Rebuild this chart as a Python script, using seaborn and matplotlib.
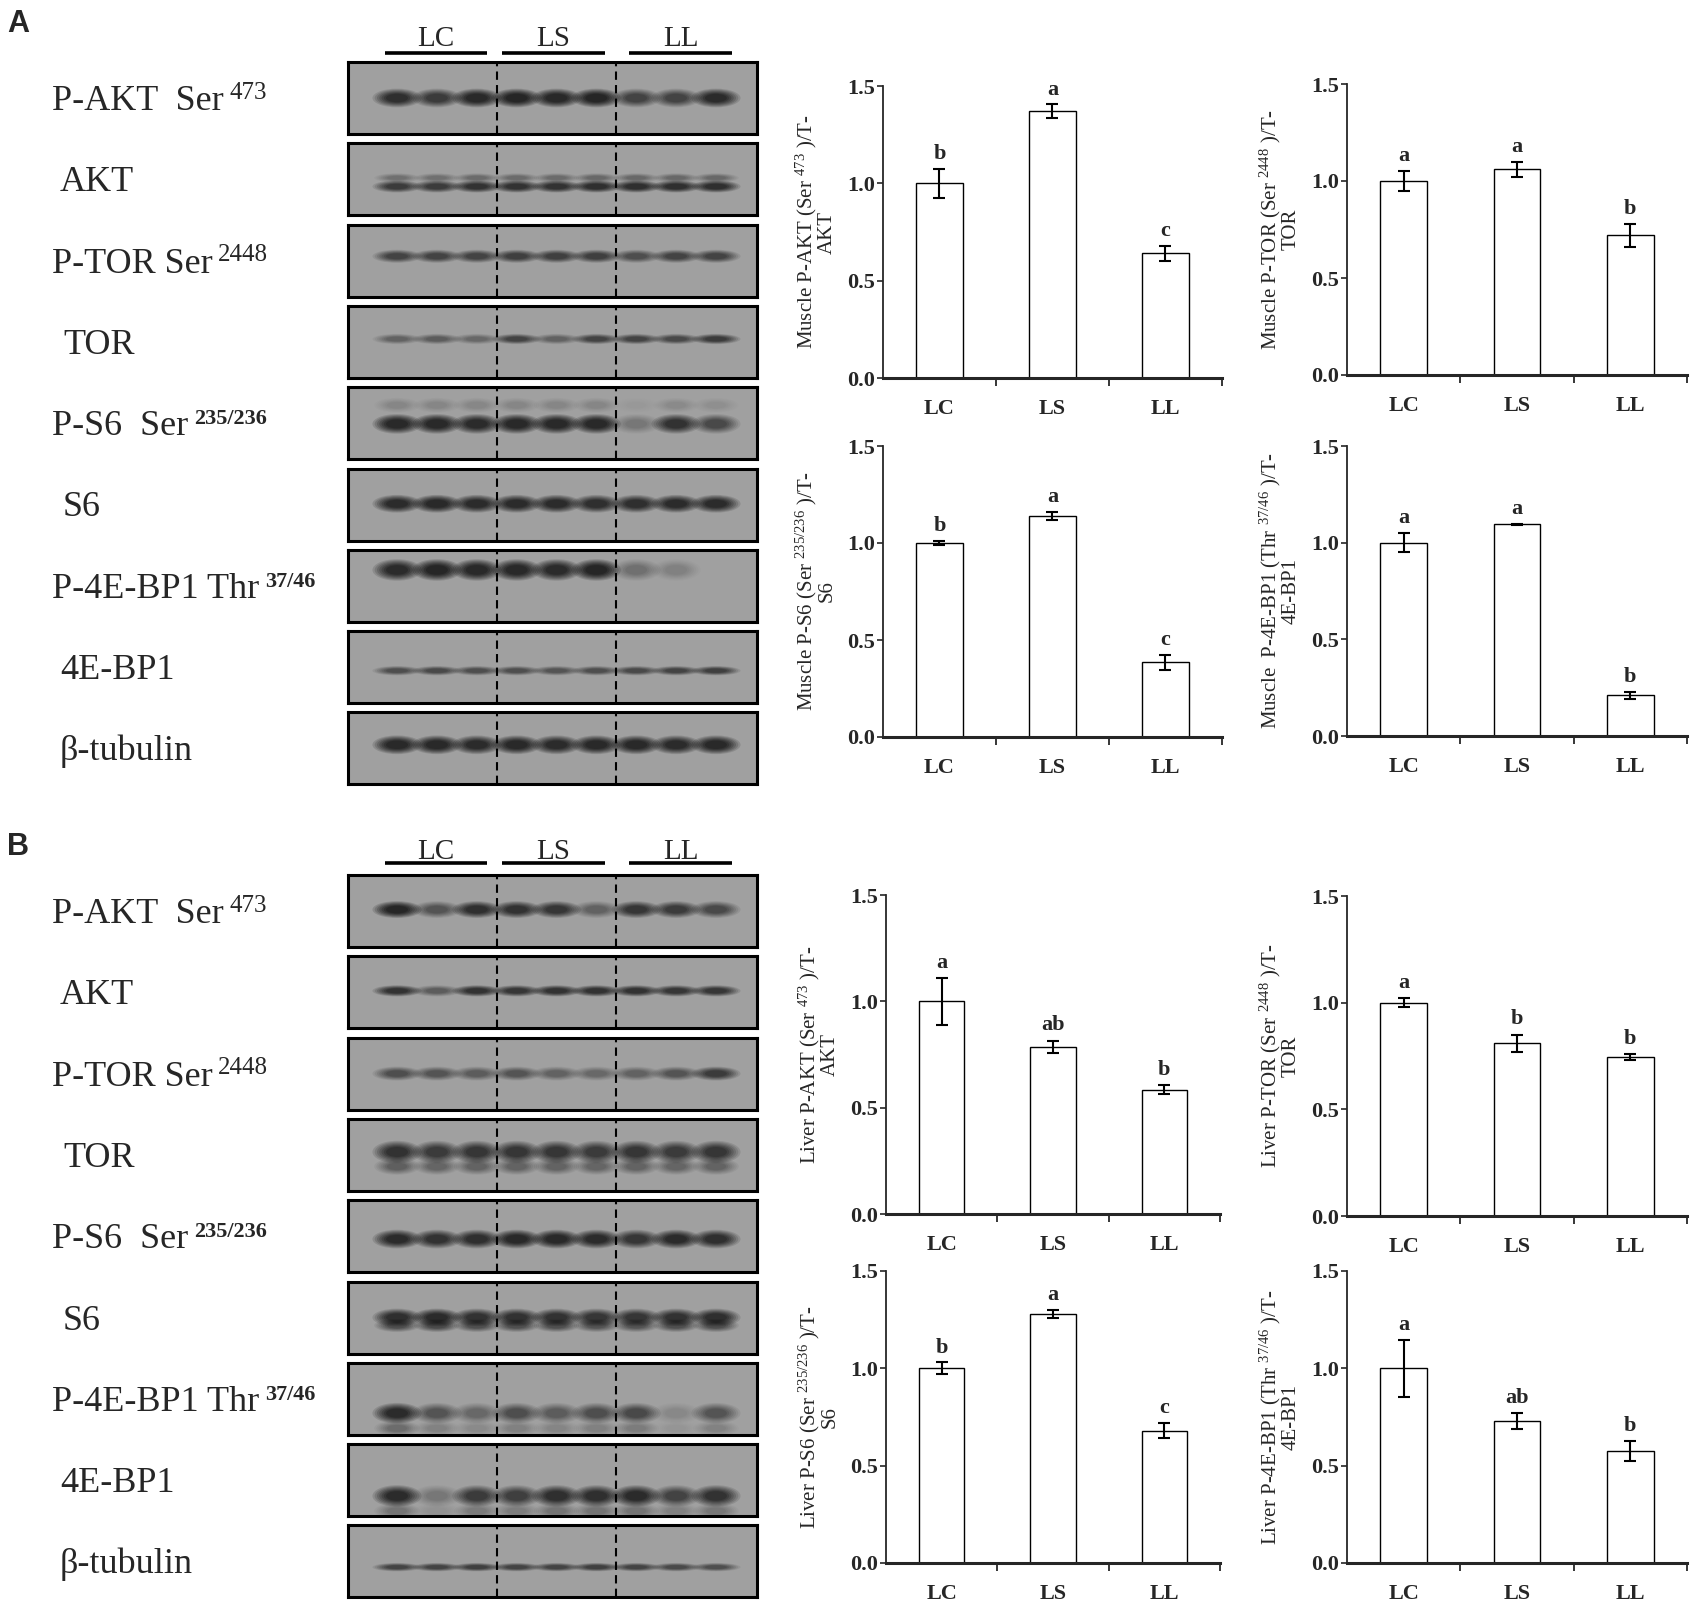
import numpy as np
import pandas as pd
import matplotlib
matplotlib.use("Agg")
import matplotlib.pyplot as plt
import seaborn as sns
from matplotlib.patches import Ellipse

# ---------------- data ----------------
groups = ["LC", "LS", "LL"]

# Quantification (mean, SEM, significance letters)
m_akt = [1.00, 1.37, 0.64]
m_akt_err = [0.075, 0.035, 0.04]
m_akt_sig = ["b", "a", "c"]

m_tor = [1.00, 1.06, 0.72]
m_tor_err = [0.05, 0.04, 0.06]
m_tor_sig = ["a", "a", "b"]

m_s6 = [1.00, 1.14, 0.385]
m_s6_err = [0.01, 0.02, 0.04]
m_s6_sig = ["b", "a", "c"]

m_4ebp1 = [1.00, 1.095, 0.21]
m_4ebp1_err = [0.05, 0.004, 0.02]
m_4ebp1_sig = ["a", "a", "b"]

l_akt = [1.00, 0.785, 0.585]
l_akt_err = [0.11, 0.03, 0.02]
l_akt_sig = ["a", "ab", "b"]

l_tor = [1.00, 0.81, 0.745]
l_tor_err = [0.02, 0.04, 0.015]
l_tor_sig = ["a", "b", "b"]

l_s6 = [1.00, 1.28, 0.68]
l_s6_err = [0.03, 0.02, 0.04]
l_s6_sig = ["b", "a", "c"]

l_4ebp1 = [1.00, 0.73, 0.575]
l_4ebp1_err = [0.145, 0.04, 0.05]
l_4ebp1_sig = ["a", "ab", "b"]

# Western blot band intensities (9 lanes: LC x3, LS x3, LL x3), 0..1
m_pakt_bands = [0.85, 0.70, 0.95, 1.00, 0.95, 1.00, 0.60, 0.60, 0.90]
m_akt_bands = [0.70, 0.70, 0.80, 0.80, 0.80, 0.85, 0.85, 0.85, 0.85]
m_ptor_bands = [0.60, 0.60, 0.60, 0.65, 0.65, 0.65, 0.50, 0.60, 0.60]
m_tort_bands = [0.35, 0.40, 0.30, 0.60, 0.35, 0.60, 0.60, 0.55, 0.70]
m_ps6_bands = [0.95, 0.95, 0.90, 0.95, 0.95, 0.95, 0.20, 0.80, 0.55]
m_s6t_bands = [0.90, 0.95, 0.90, 0.90, 0.90, 0.85, 0.85, 0.90, 0.90]
m_p4e_bands = [0.90, 1.00, 0.95, 0.95, 0.90, 1.00, 0.25, 0.15, 0.00]
m_4e_bands = [0.50, 0.55, 0.50, 0.50, 0.45, 0.50, 0.55, 0.60, 0.65]
m_tub_bands = [0.95, 0.95, 0.90, 0.95, 0.90, 0.95, 0.95, 0.90, 0.95]

l_pakt_bands = [1.00, 0.45, 0.85, 0.80, 0.75, 0.35, 0.75, 0.70, 0.55]
l_akt_bands = [0.80, 0.40, 0.80, 0.75, 0.80, 0.80, 0.80, 0.75, 0.75]
l_ptor_bands = [0.50, 0.45, 0.40, 0.45, 0.35, 0.30, 0.35, 0.45, 0.70]
l_tort_bands = [0.80, 0.70, 0.75, 0.75, 0.75, 0.70, 0.75, 0.70, 0.75]
l_ps6_bands = [0.90, 0.80, 0.85, 0.95, 0.95, 0.90, 0.75, 0.90, 0.85]
l_s6t_bands = [0.85, 0.90, 0.80, 0.80, 0.80, 0.75, 0.75, 0.80, 0.85]
l_p4e_bands = [0.90, 0.45, 0.30, 0.50, 0.40, 0.50, 0.55, 0.10, 0.45]
l_4e_bands = [0.90, 0.20, 0.70, 0.65, 0.85, 0.85, 0.90, 0.60, 0.80]
l_tub_bands = [0.60, 0.60, 0.65, 0.60, 0.60, 0.65, 0.60, 0.55, 0.50]

blot_names = ["P-AKT  Ser", "AKT", "P-TOR Ser", "TOR", "P-S6  Ser", "S6",
              "P-4E-BP1 Thr", "4E-BP1", "\u03b2-tubulin"]
blot_sups = ["473", None, "2448", None, "235/236", None, "37/46", None, None]

# ---------------- style / layout ----------------
W, H = 1695, 1613
sns.set_style("ticks")
plt.rcParams["font.family"] = ["Liberation Serif", "DejaVu Serif"]
plt.rcParams["mathtext.default"] = "regular"
SERIF = ["Liberation Serif", "DejaVu Serif"]

fig = plt.figure(figsize=(W / 100, H / 100), dpi=100)
fig.patch.set_facecolor("white")


def add_ax(left, top, width, height):
    return fig.add_axes([left / W, 1 - (top + height) / H, width / W, height / H])


over = add_ax(0, 0, W, H)
over.set_xlim(0, W)
over.set_ylim(H, 0)
over.axis("off")

# blot styles: (band y, band height, secondary dy, secondary factor)
m_styles = [(0.50, 0.20, None, 0), (0.40, 0.13, 0.12, 0.35), (0.56, 0.14, None, 0),
            (0.54, 0.11, None, 0), (0.49, 0.21, 0.26, 0.12), (0.51, 0.19, None, 0),
            (0.72, 0.23, None, 0), (0.45, 0.10, None, 0), (0.55, 0.20, None, 0)]
l_styles = [(0.52, 0.18, None, 0), (0.52, 0.12, None, 0), (0.50, 0.15, None, 0),
            (0.54, 0.24, -0.20, 0.45), (0.46, 0.20, None, 0), (0.50, 0.19, -0.11, 0.6),
            (0.30, 0.22, -0.21, 0.3), (0.28, 0.23, -0.21, 0.25), (0.42, 0.09, None, 0)]
m_bands = [m_pakt_bands, m_akt_bands, m_ptor_bands, m_tort_bands, m_ps6_bands,
           m_s6t_bands, m_p4e_bands, m_4e_bands, m_tub_bands]
l_bands = [l_pakt_bands, l_akt_bands, l_ptor_bands, l_tort_bands, l_ps6_bands,
           l_s6t_bands, l_p4e_bands, l_4e_bands, l_tub_bands]
label_x = [52, 60, 52, 63, 52, 63, 52, 60, 60]

BLOT_L, BLOT_W, BLOT_H, STEP = 348, 409, 72, 81.3
LAYERS = [(1.30, 0.14), (1.18, 0.16), (1.06, 0.18), (0.94, 0.20),
          (0.82, 0.22), (0.70, 0.24), (0.58, 0.26)]


def draw_blot(ax, bands, style):
    y, h, dy2, f2 = style
    ax.set_facecolor("#a0a0a0")
    ax.set_xlim(-1.23, 9.03)
    ax.set_ylim(0, 1)
    lanes = np.arange(len(bands))
    for i, a in zip(lanes, bands):
        for sc, al in LAYERS:
            ax.add_patch(Ellipse((i, y), 0.95 * sc, h * sc, facecolor="#080808",
                                 edgecolor="none", alpha=al * a))
            if dy2 is not None:
                ax.add_patch(Ellipse((i, y + dy2), 0.88 * sc, h * 0.75 * sc,
                                     facecolor="#080808", edgecolor="none",
                                     alpha=al * a * f2))
    for xv in (2.5, 5.5):
        ax.axvline(xv, color="black", lw=1.5, ls=(0, (4, 2.5)))
    ax.set_xticks([])
    ax.set_yticks([])
    for s in ax.spines.values():
        s.set_visible(True)
        s.set_linewidth(2.2)
        s.set_color("black")


def blot_panel(top, bands_list, styles, header_y, line_y):
    for k in range(9):
        t = top + k * STEP
        ax = add_ax(BLOT_L, t, BLOT_W, BLOT_H)
        draw_blot(ax, bands_list[k], styles[k])
        yb = t + BLOT_H / 2 + 12
        txt = over.text(label_x[k], yb, blot_names[k], fontsize=26, family=SERIF,
                        ha="left", va="baseline")
        if blot_sups[k]:
            bold = "/" in blot_sups[k]
            over.annotate(blot_sups[k], xy=(1, 0.58), xycoords=txt,
                          xytext=(4, 0), textcoords="offset points",
                          ha="left", va="baseline", fontsize=16 if bold else 18,
                          fontweight="bold" if bold else "normal", family=SERIF)
    for g, xc, (x0, x1) in zip(groups, [436, 553, 681],
                               [(385, 487), (502, 605), (629, 732)]):
        over.text(xc, header_y, g, fontsize=21, family=SERIF, ha="center", va="center")
        over.plot([x0, x1], [line_y, line_y], color="black", lw=2.6,
                  solid_capstyle="butt")


blot_panel(62, m_bands, m_styles, 39, 53)
blot_panel(875, l_bands, l_styles, 852, 863)

over.text(7, 9, "A", fontsize=22, fontweight="bold", family=["Liberation Sans"],
          ha="left", va="top")
over.text(7, 832, "B", fontsize=22, fontweight="bold", family=["Liberation Sans"],
          ha="left", va="top")


def bar_panel(ax, vals, errs, sig, ylabel):
    df = pd.DataFrame({"group": groups, "value": vals})
    sns.barplot(data=df, x="group", y="value", order=groups, color="white",
                saturation=1, edgecolor="black", linewidth=1.0, width=0.41,
                errorbar=None, ax=ax)
    xs = np.arange(len(groups))
    ax.errorbar(xs, vals, yerr=errs, fmt="none", ecolor="black", elinewidth=1.5,
                capsize=4.5, capthick=1.5, zorder=5)
    for i, (v, e, s) in enumerate(zip(vals, errs, sig)):
        ax.text(xs[i], v + e + 0.025, s, ha="center", va="bottom", fontsize=16,
                fontweight="bold", family=SERIF)
    ax.set_xlim(-0.5, 2.5)
    ax.set_ylim(0, 1.5)
    ax.set_yticks([0, 0.5, 1.0, 1.5])
    ax.set_yticklabels(["0.0", "0.5", "1.0", "1.5"])
    ax.set_xticks(xs)
    ax.set_xticklabels(groups)
    ax.set_xticks([0.5, 1.5, 2.5], minor=True)
    ax.tick_params(axis="x", which="major", length=0, pad=15, labelsize=16)
    ax.tick_params(axis="x", which="minor", length=6, width=1.3, direction="out")
    ax.tick_params(axis="y", which="major", length=4, width=1.2, direction="out",
                   pad=2, labelsize=16)
    for lab in ax.get_xticklabels() + ax.get_yticklabels():
        lab.set_fontweight("bold")
        lab.set_family(SERIF)
    sns.despine(ax=ax)
    ax.spines["bottom"].set_linewidth(2.2)
    ax.spines["left"].set_linewidth(1.3)
    ax.set_facecolor("white")
    ax.set_xlabel("")
    ax.set_ylabel(ylabel, fontsize=15, family=SERIF, linespacing=0.95)
    w_px = ax.get_position().width * W
    ax.yaxis.set_label_coords(-46 / w_px, 0.5)


panels = [
    (883, 86, 339, 292, m_akt, m_akt_err, m_akt_sig, "Muscle P-AKT (Ser $^{473}$ )/T-\nAKT"),
    (1347, 84, 340, 291, m_tor, m_tor_err, m_tor_sig, "Muscle P-TOR (Ser $^{2448}$ )/T-\nTOR"),
    (883, 446, 339, 291, m_s6, m_s6_err, m_s6_sig, "Muscle P-S6 (Ser $^{235/236}$ )/T-\nS6"),
    (1347, 446, 340, 290, m_4ebp1, m_4ebp1_err, m_4ebp1_sig,
     "Muscle  P-4E-BP1 (Thr $^{37/46}$ )/T-\n4E-BP1"),
    (886, 895, 334, 319, l_akt, l_akt_err, l_akt_sig, "Liver P-AKT (Ser $^{473}$ )/T-\nAKT"),
    (1347, 896, 340, 320, l_tor, l_tor_err, l_tor_sig, "Liver P-TOR (Ser $^{2448}$ )/T-\nTOR"),
    (886, 1271, 334, 292, l_s6, l_s6_err, l_s6_sig, "Liver P-S6 (Ser $^{235/236}$ )/T-\nS6"),
    (1347, 1271, 340, 292, l_4ebp1, l_4ebp1_err, l_4ebp1_sig,
     "Liver P-4E-BP1 (Thr $^{37/46}$ )/T-\n4E-BP1"),
]
for left, top, w, h, v, e, s, lab in panels:
    ax = add_ax(left, top, w, h)
    bar_panel(ax, v, e, s, lab)

fig.savefig("out.png", dpi=100, facecolor="white")
